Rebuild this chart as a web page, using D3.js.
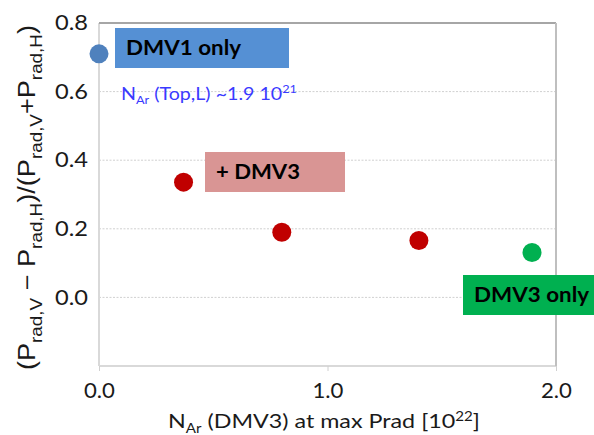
<!DOCTYPE html>
<html>
<head>
<meta charset="utf-8">
<script src="https://cdn.jsdelivr.net/npm/d3@7"></script>
<style>
  body { margin: 0; background: #fff; }
  svg { display: block; }
</style>
</head>
<body>
<script>
// data
const blueX = [0.0];
const blueY = [0.71];
const redX = [0.37, 0.80, 1.40];
const redY = [0.336, 0.19, 0.166];
const greenX = [1.895];
const greenY = [0.131];

const yTicks = [0.0, 0.2, 0.4, 0.6, 0.8];
const yGrid = [0.0, 0.2, 0.4, 0.6];
const xTicks = [0.0, 1.0, 2.0];

const W = 594, H = 435;
const margin = {left: 99, right: 38, top: 23, bottom: 69};

const svg = d3.select('body').append('svg')
    .attr('width', W)
    .attr('height', H)
    .style('font-family', 'Lato, "Open Sans", sans-serif');

const x = d3.scaleLinear().domain([0, 2]).range([margin.left, W - margin.right]);
const y = d3.scaleLinear().domain([-0.2, 0.8]).range([H - margin.bottom, margin.top]);

// the source picture is stretched sideways, so texts get a fixed width
function stretch(sel, len) {
  sel.attr('textLength', len).attr('lengthAdjust', 'spacingAndGlyphs');
}

// grid
svg.append('g')
    .selectAll('line')
    .data(yGrid)
    .enter()
    .append('line')
    .attr('x1', x(0))
    .attr('x2', x(2))
    .attr('y1', d => y(d))
    .attr('y2', d => y(d))
    .attr('stroke', '#d0d0d0')
    .attr('stroke-dasharray', '2,1.5');

// frame
svg.append('line')
    .attr('x1', x(0)).attr('x2', x(2)).attr('y1', y(-0.2)).attr('y2', y(-0.2))
    .attr('stroke', '#d9d9d9').attr('stroke-width', 2);
svg.append('line')
    .attr('x1', x(0)).attr('x2', x(0)).attr('y1', y(0.8)).attr('y2', y(-0.2))
    .attr('stroke', '#d9d9d9').attr('stroke-width', 2);
svg.append('line')
    .attr('x1', x(0)).attr('x2', x(2)).attr('y1', y(0.8)).attr('y2', y(0.8))
    .attr('stroke', '#a6a6a6').attr('stroke-width', 2);
svg.append('line')
    .attr('x1', x(2)).attr('x2', x(2)).attr('y1', y(0.8)).attr('y2', y(-0.2))
    .attr('stroke', '#bfbfbf').attr('stroke-width', 2);

// axes
const yAxis = d3.axisLeft(y).tickValues(yTicks).tickFormat(d3.format('.1f')).tickSize(0).tickPadding(11);
const gy = svg.append('g').attr('transform', `translate(${x(0)},0)`).call(yAxis);
gy.select('.domain').remove();
gy.selectAll('text')
    .attr('font-size', 21)
    .attr('fill', '#1a1a1a')
    .style('font-family', 'Lato, sans-serif')
    .call(stretch, 33);

const xAxis = d3.axisBottom(x).tickValues(xTicks).tickFormat(d3.format('.1f')).tickSize(5).tickPadding(12);
const gx = svg.append('g').attr('transform', `translate(0,${y(-0.2)})`).call(xAxis);
gx.select('.domain').remove();
gx.selectAll('line').attr('stroke', '#d0d0d0');
gx.selectAll('text')
    .attr('font-size', 21)
    .attr('fill', '#1a1a1a')
    .style('font-family', 'Lato, sans-serif')
    .call(stretch, 31);

// label boxes
function box(x0, y0, w, h, fill, label, len) {
  svg.append('rect').attr('x', x0).attr('y', y0).attr('width', w).attr('height', h).attr('fill', fill);
  svg.append('text')
      .attr('x', x0 + 11)
      .attr('y', y0 + h / 2 + 7)
      .attr('font-size', 21)
      .attr('font-weight', 'bold')
      .attr('fill', '#000')
      .text(label)
      .call(stretch, len);
}
box(115, 28, 174, 40, '#5590d4', 'DMV1 only', 115);
box(205, 152, 140, 40, '#d99594', '+ DMV3', 84);
box(463, 275, 131, 40, '#00b050', 'DMV3 only', 115);

// points
function dots(xs, ys, color) {
  svg.append('g')
      .selectAll('circle')
      .data(xs.map((d, i) => [d, ys[i]]))
      .enter()
      .append('circle')
      .attr('cx', d => x(d[0]))
      .attr('cy', d => y(d[1]))
      .attr('r', 9.5)
      .attr('fill', color);
}
dots(blueX, blueY, '#4f81bd');
dots(redX, redY, '#c00000');
dots(greenX, greenY, '#00b050');

// blue note
const note = svg.append('text')
    .attr('x', 121)
    .attr('y', 100)
    .attr('font-size', 17)
    .attr('fill', '#3a3aff')
    .call(stretch, 176);
note.append('tspan').text('N');
note.append('tspan').attr('font-size', 11).attr('dy', 4).text('Ar');
note.append('tspan').attr('dy', -4).text(' (Top,L) ~1.9 10');
note.append('tspan').attr('font-size', 11).attr('dy', -7).text('21');

// x title
const xt = svg.append('text')
    .attr('x', 168)
    .attr('y', 428)
    .attr('font-size', 20)
    .attr('fill', '#1a1a1a')
    .call(stretch, 312);
xt.append('tspan').text('N');
xt.append('tspan').attr('font-size', 13).attr('dy', 5).text('Ar');
xt.append('tspan').attr('dy', -5).text(' (DMV3) at max Prad [10');
xt.append('tspan').attr('font-size', 13).attr('dy', -7).text('22');
xt.append('tspan').attr('dy', 7).text(']');

// y title
const yt = svg.append('text')
    .attr('transform', 'translate(35,370) rotate(-90)')
    .attr('font-size', 23)
    .attr('fill', '#1a1a1a')
    .style('font-family', '"Liberation Sans", Arial, sans-serif')
    .call(stretch, 345);
const parts = [['(P', 'rad,V'], [' \u2212 P', 'rad,H'], [')/(P', 'rad,V'], ['+P', 'rad,H'], [')', null]];
parts.forEach(p => {
  if (p[0].startsWith(')')) yt.append('tspan').attr('dy', -7).text(p[0]);
  else if (p[0] === '(P') yt.append('tspan').text(p[0]);
  else yt.append('tspan').attr('dy', -7).text(p[0]);
  if (p[1]) yt.append('tspan').attr('font-size', 16).attr('dy', 7).text(p[1]);
});
</script>
</body>
</html>
